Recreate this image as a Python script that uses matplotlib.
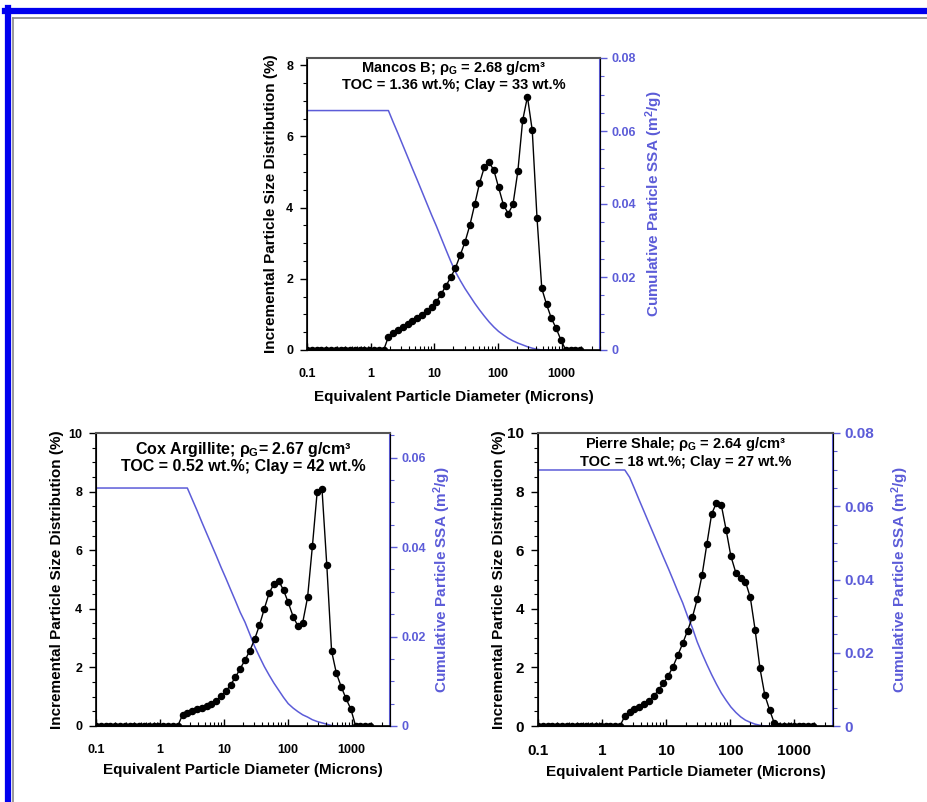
import matplotlib
matplotlib.use("Agg")
import matplotlib.pyplot as plt
from matplotlib.ticker import FixedLocator, MultipleLocator, NullFormatter, LogLocator
from matplotlib.lines import Line2D

plt.rcParams['font.family'] = ['Liberation Sans', 'DejaVu Sans']
plt.rcParams['font.weight'] = 'bold'
plt.rcParams['mathtext.fontset'] = 'custom'
plt.rcParams['mathtext.rm'] = 'Liberation Sans:bold'
plt.rcParams['mathtext.it'] = 'Liberation Sans:bold'
plt.rcParams['mathtext.bf'] = 'Liberation Sans:bold'

# equivalent particle diameter bins (microns)
diam = [0.1, 0.119, 0.141, 0.168, 0.2, 0.238, 0.283, 0.336, 0.4, 0.476,
        0.566, 0.673, 0.8, 0.951, 1.13, 1.35, 1.6, 1.9, 2.26, 2.69,
        3.2, 3.81, 4.53, 5.38, 6.4, 7.61, 9.05, 10.8, 12.8, 15.2,
        18.1, 21.5, 25.6, 30.4, 36.2, 43.1, 51.2, 60.9, 72.4, 86.1,
        102, 122, 145, 172, 205, 244, 290, 345, 410, 487,
        579, 689, 819, 974, 1160, 1380, 1640, 1950]

# incremental PSD (%)
mancos_psd = [0] * 17 + [0.37, 0.49, 0.56, 0.64, 0.73, 0.81, 0.89, 0.98, 1.09, 1.22,
                         1.36, 1.57, 1.80, 2.04, 2.31, 2.67, 3.04, 3.51, 4.09, 4.68,
                         5.13, 5.27, 5.05, 4.57, 4.07, 3.83, 4.09, 5.02, 6.45, 7.11,
                         6.17, 3.71, 1.73, 1.28, 0.89, 0.61, 0.28] + [0] * 4
cox_psd = [0] * 18 + [0.375, 0.46, 0.52, 0.57, 0.63, 0.68, 0.75, 0.86, 1.02, 1.18,
                      1.41, 1.66, 1.96, 2.25, 2.57, 2.96, 3.44, 4.0, 4.53, 4.85,
                      4.95, 4.64, 4.22, 3.73, 3.41, 3.53, 4.39, 6.14, 8.0, 8.08,
                      5.49, 2.56, 1.80, 1.34, 0.94, 0.58] + [0] * 4
pierre_psd = [0] * 18 + [0.34, 0.49, 0.57, 0.66, 0.74, 0.86, 1.02, 1.23, 1.46, 1.72,
                         2.03, 2.42, 2.82, 3.25, 3.71, 4.32, 5.14, 6.21, 7.24, 7.62,
                         7.54, 6.69, 5.80, 5.23, 5.04, 4.93, 4.39, 3.28, 1.97, 1.06,
                         0.55, 0.09] + [0] * 8

# cumulative particle SSA (m2/g)
mancos_ssa = [0.0656] * 18 + [0.0624, 0.0593, 0.0561, 0.0529, 0.0497, 0.0466, 0.0434, 0.0402,
                              0.0370, 0.0339, 0.0307, 0.0275, 0.0243, 0.0214, 0.0190, 0.0168,
                              0.0148, 0.0128, 0.0110, 0.0093, 0.0077, 0.0063, 0.0051, 0.0041,
                              0.0032, 0.0025, 0.0019, 0.0014, 0.0009, 0.0005, 0.0002] + [0] * 9
cox_ssa = [0.0532] * 20 + [0.0507, 0.0482, 0.0456, 0.0431, 0.0406, 0.0381, 0.0355, 0.0330,
                           0.0305, 0.0280, 0.0254, 0.0232, 0.0205, 0.0178, 0.0155, 0.0133,
                           0.0114, 0.0096, 0.0080, 0.0064, 0.0050, 0.0040, 0.0032, 0.0025,
                           0.0020, 0.0014, 0.0010, 0.0007, 0.0004, 0.0001] + [0] * 8
pierre_ssa = [0.0699] * 19 + [0.0679, 0.0648, 0.0616, 0.0585, 0.0554, 0.0523, 0.0492, 0.0461,
                              0.0430, 0.0399, 0.0367, 0.0336, 0.0300, 0.0268, 0.0230, 0.0198,
                              0.0168, 0.0140, 0.0114, 0.0090, 0.0070, 0.0052, 0.0037, 0.0025,
                              0.0016, 0.0010, 0.0005, 0.0002] + [0] * 11

xticks = [0.1, 1, 10, 100, 1000]
xticklabels = ["0.1", "1", "10", "100", "1000"]

BLUE = '#5c5cd8'
W, H = 928, 802

fig = plt.figure(figsize=(W / 100, H / 100), dpi=100)


def rect(l, r, t, b):
    return [l / W, 1 - b / H, (r - l) / W, (b - t) / H]


def panel(box, psd, ssa, ymax, ssamax, line1, line2, tfs, lfs, tkfs, ytx, rtx, ttl_y, gap, xlpad):
    ax = fig.add_axes(rect(*box))
    ax.plot(diam, psd, color='black', lw=1.0, marker='o', ms=4.4, zorder=3)
    ax.set_xscale('log')
    ax.set_xlim(0.1, 4000)
    ax.set_ylim(0, ymax)
    ax.xaxis.set_major_locator(FixedLocator(xticks))
    ax.set_xticklabels(xticklabels, fontsize=tkfs, fontweight='bold')
    ax.xaxis.set_minor_locator(LogLocator(base=10, subs=range(2, 10)))
    ax.xaxis.set_minor_formatter(NullFormatter())
    ax.tick_params(axis='x', which='major', direction='in', length=5, width=1, pad=13)
    ax.tick_params(axis='x', which='minor', direction='in', length=3, width=0.8)
    ax.yaxis.set_major_locator(MultipleLocator(2))
    ax.yaxis.set_minor_locator(MultipleLocator(0.5))
    ax.tick_params(axis='y', which='major', direction='out', length=5, width=1, labelsize=tkfs, pad=5)
    ax.tick_params(axis='y', which='minor', direction='out', length=3, width=0.8)
    for lab in ax.get_yticklabels():
        lab.set_fontweight('bold')
    ax.set_xlabel('Equivalent Particle Diameter (Microns)', fontsize=lfs, fontweight='bold', labelpad=xlpad)
    ax.set_ylabel('Incremental Particle Size Distribution (%)', fontsize=lfs, fontweight='bold')
    ax.yaxis.set_label_coords(ytx, 0.5)
    for s in ['left', 'bottom']:
        ax.spines[s].set_linewidth(1.2)
    ax.spines['top'].set_color('#555555')
    ax.spines['top'].set_linewidth(1.5)

    ax2 = ax.twinx()
    ax2.plot(diam, ssa, color=BLUE, lw=1.1, zorder=2)
    ax2.set_ylim(0, ssamax)
    ax2.yaxis.set_major_locator(FixedLocator([0, 0.02, 0.04, 0.06, 0.08]))
    ax2.set_yticklabels(['0', '0.02', '0.04', '0.06', '0.08'], fontsize=tkfs, fontweight='bold', color=BLUE)
    ax2.yaxis.set_minor_locator(MultipleLocator(0.005))
    ax2.tick_params(axis='y', which='major', colors=BLUE, direction='out', length=5, width=1)
    ax2.tick_params(axis='y', which='minor', colors=BLUE, direction='out', length=3, width=0.8)
    ax2.spines['right'].set_color(BLUE)
    ax2.spines['right'].set_linewidth(1.5)
    ax2.spines['top'].set_visible(False)
    ax2.set_ylabel('Cumulative Particle SSA (m$^2$/g)', fontsize=lfs, fontweight='bold', color=BLUE)
    ax2.yaxis.set_label_coords(rtx, 0.5)
    ax.set_zorder(ax2.get_zorder() + 1)
    ax.patch.set_visible(False)

    ax.text(0.5, ttl_y, line1, transform=ax.transAxes, ha='center', va='center',
            fontsize=tfs, fontweight='bold')
    ax.text(0.5, ttl_y - gap, line2, transform=ax.transAxes, ha='center', va='center',
            fontsize=tfs, fontweight='bold')
    return ax, ax2


panel((307, 600, 58, 350), mancos_psd, mancos_ssa, 8.2, 0.08,
      r'Mancos B; $\rho_G$ = 2.68 g/cm³', 'TOC = 1.36 wt.%; Clay = 33 wt.%',
      10.5, 11, 9, -0.098, 1.148, 0.966, 0.059, 7)
panel((96, 390, 433, 726), cox_psd, cox_ssa, 10, 0.0655,
      r'Cox Argillite; $\rho_G$= 2.67 g/cm³', 'TOC = 0.52 wt.%; Clay = 42 wt.%',
      11.5, 11, 9, -0.11, 1.14, 0.942, 0.058, 5)
panel((538, 833, 433, 726), pierre_psd, pierre_ssa, 10, 0.08,
      r'Pierre Shale; $\rho_G$ = 2.64 g/cm³', 'TOC = 18 wt.%; Clay = 27 wt.%',
      10.5, 11, 11, -0.108, 1.19, 0.962, 0.061, 5)

# outer frame of the figure
fig.add_artist(Line2D([8 / W, 8 / W], [0, 1 - 8 / H], color='#0000ee', lw=4.5))
fig.add_artist(Line2D([5 / W, 1], [1 - 11 / H, 1 - 11 / H], color='#0000ee', lw=4.5))
fig.add_artist(Line2D([13 / W, 13 / W], [0, 1 - 18 / H], color='#888888', lw=1.2))
fig.add_artist(Line2D([13 / W, 1], [1 - 18 / H, 1 - 18 / H], color='#888888', lw=1.2))

fig.savefig('out.png', dpi=100)
